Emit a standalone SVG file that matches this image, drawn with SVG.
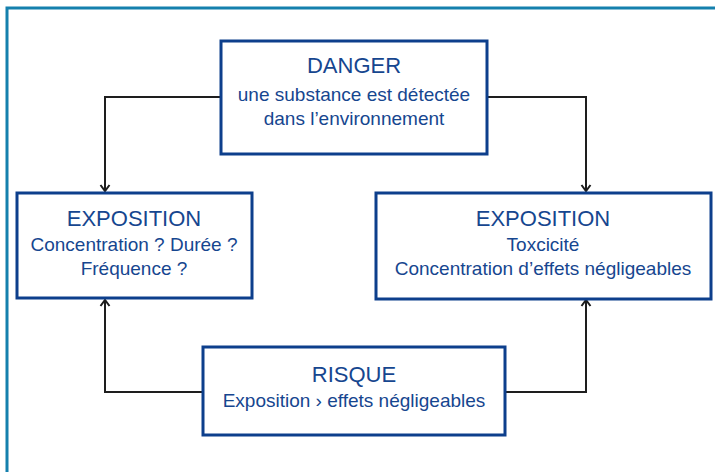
<svg xmlns="http://www.w3.org/2000/svg" width="715" height="472" viewBox="0 0 715 472">
  <style>
    .box { fill: #ffffff; stroke: #0d3f8c; stroke-width: 3; }
    .t { font-family: "Liberation Sans", Arial, sans-serif; fill: #16468f; text-anchor: middle; }
    .h { font-size: 22px; }
    .s { font-size: 19px; }
    .conn { fill: none; stroke: #1e1e1e; stroke-width: 2; marker-end: url(#arr); }
  </style>
  <defs>
    <marker id="arr" markerWidth="12" markerHeight="12" refX="9" refY="6" orient="auto" markerUnits="userSpaceOnUse">
      <path d="M3,1.5 L9,6 L3,10.5" fill="none" stroke="#1e1e1e" stroke-width="2"/>
    </marker>
  </defs>
  <rect width="715" height="472" fill="#ffffff"/>
  <path d="M7,472 L7,8 L715,8" fill="none" stroke="#1580ad" stroke-width="3"/>

  <g id="connectors">
    <path class="conn" d="M221,97 L105,97 L105,191"/>
    <path class="conn" d="M487,97 L586,97 L586,191"/>
    <path class="conn" d="M203,392 L105,392 L105,300"/>
    <path class="conn" d="M505,392 L586,392 L586,300"/>
  </g>

  <g id="danger">
    <rect class="box" x="221" y="41" width="266" height="113"/>
    <text class="t h" x="354" y="73">DANGER</text>
    <text class="t s" x="354" y="101">une substance est détectée</text>
    <text class="t s" x="354" y="125">dans l’environnement</text>
  </g>

  <g id="exposition-left">
    <rect class="box" x="17" y="193" width="235" height="105"/>
    <text class="t h" x="134" y="226">EXPOSITION</text>
    <text class="t s" x="134" y="251">Concentration ? Durée ?</text>
    <text class="t s" x="134" y="275">Fréquence ?</text>
  </g>

  <g id="exposition-right">
    <rect class="box" x="376" y="193" width="335" height="106"/>
    <text class="t h" x="543" y="226">EXPOSITION</text>
    <text class="t s" x="543" y="251">Toxcicité</text>
    <text class="t s" x="543" y="275">Concentration d’effets négligeables</text>
  </g>

  <g id="risque">
    <rect class="box" x="203" y="347" width="302" height="88"/>
    <text class="t h" x="354" y="382">RISQUE</text>
    <text class="t s" x="354" y="407">Exposition › effets négligeables</text>
  </g>
</svg>
